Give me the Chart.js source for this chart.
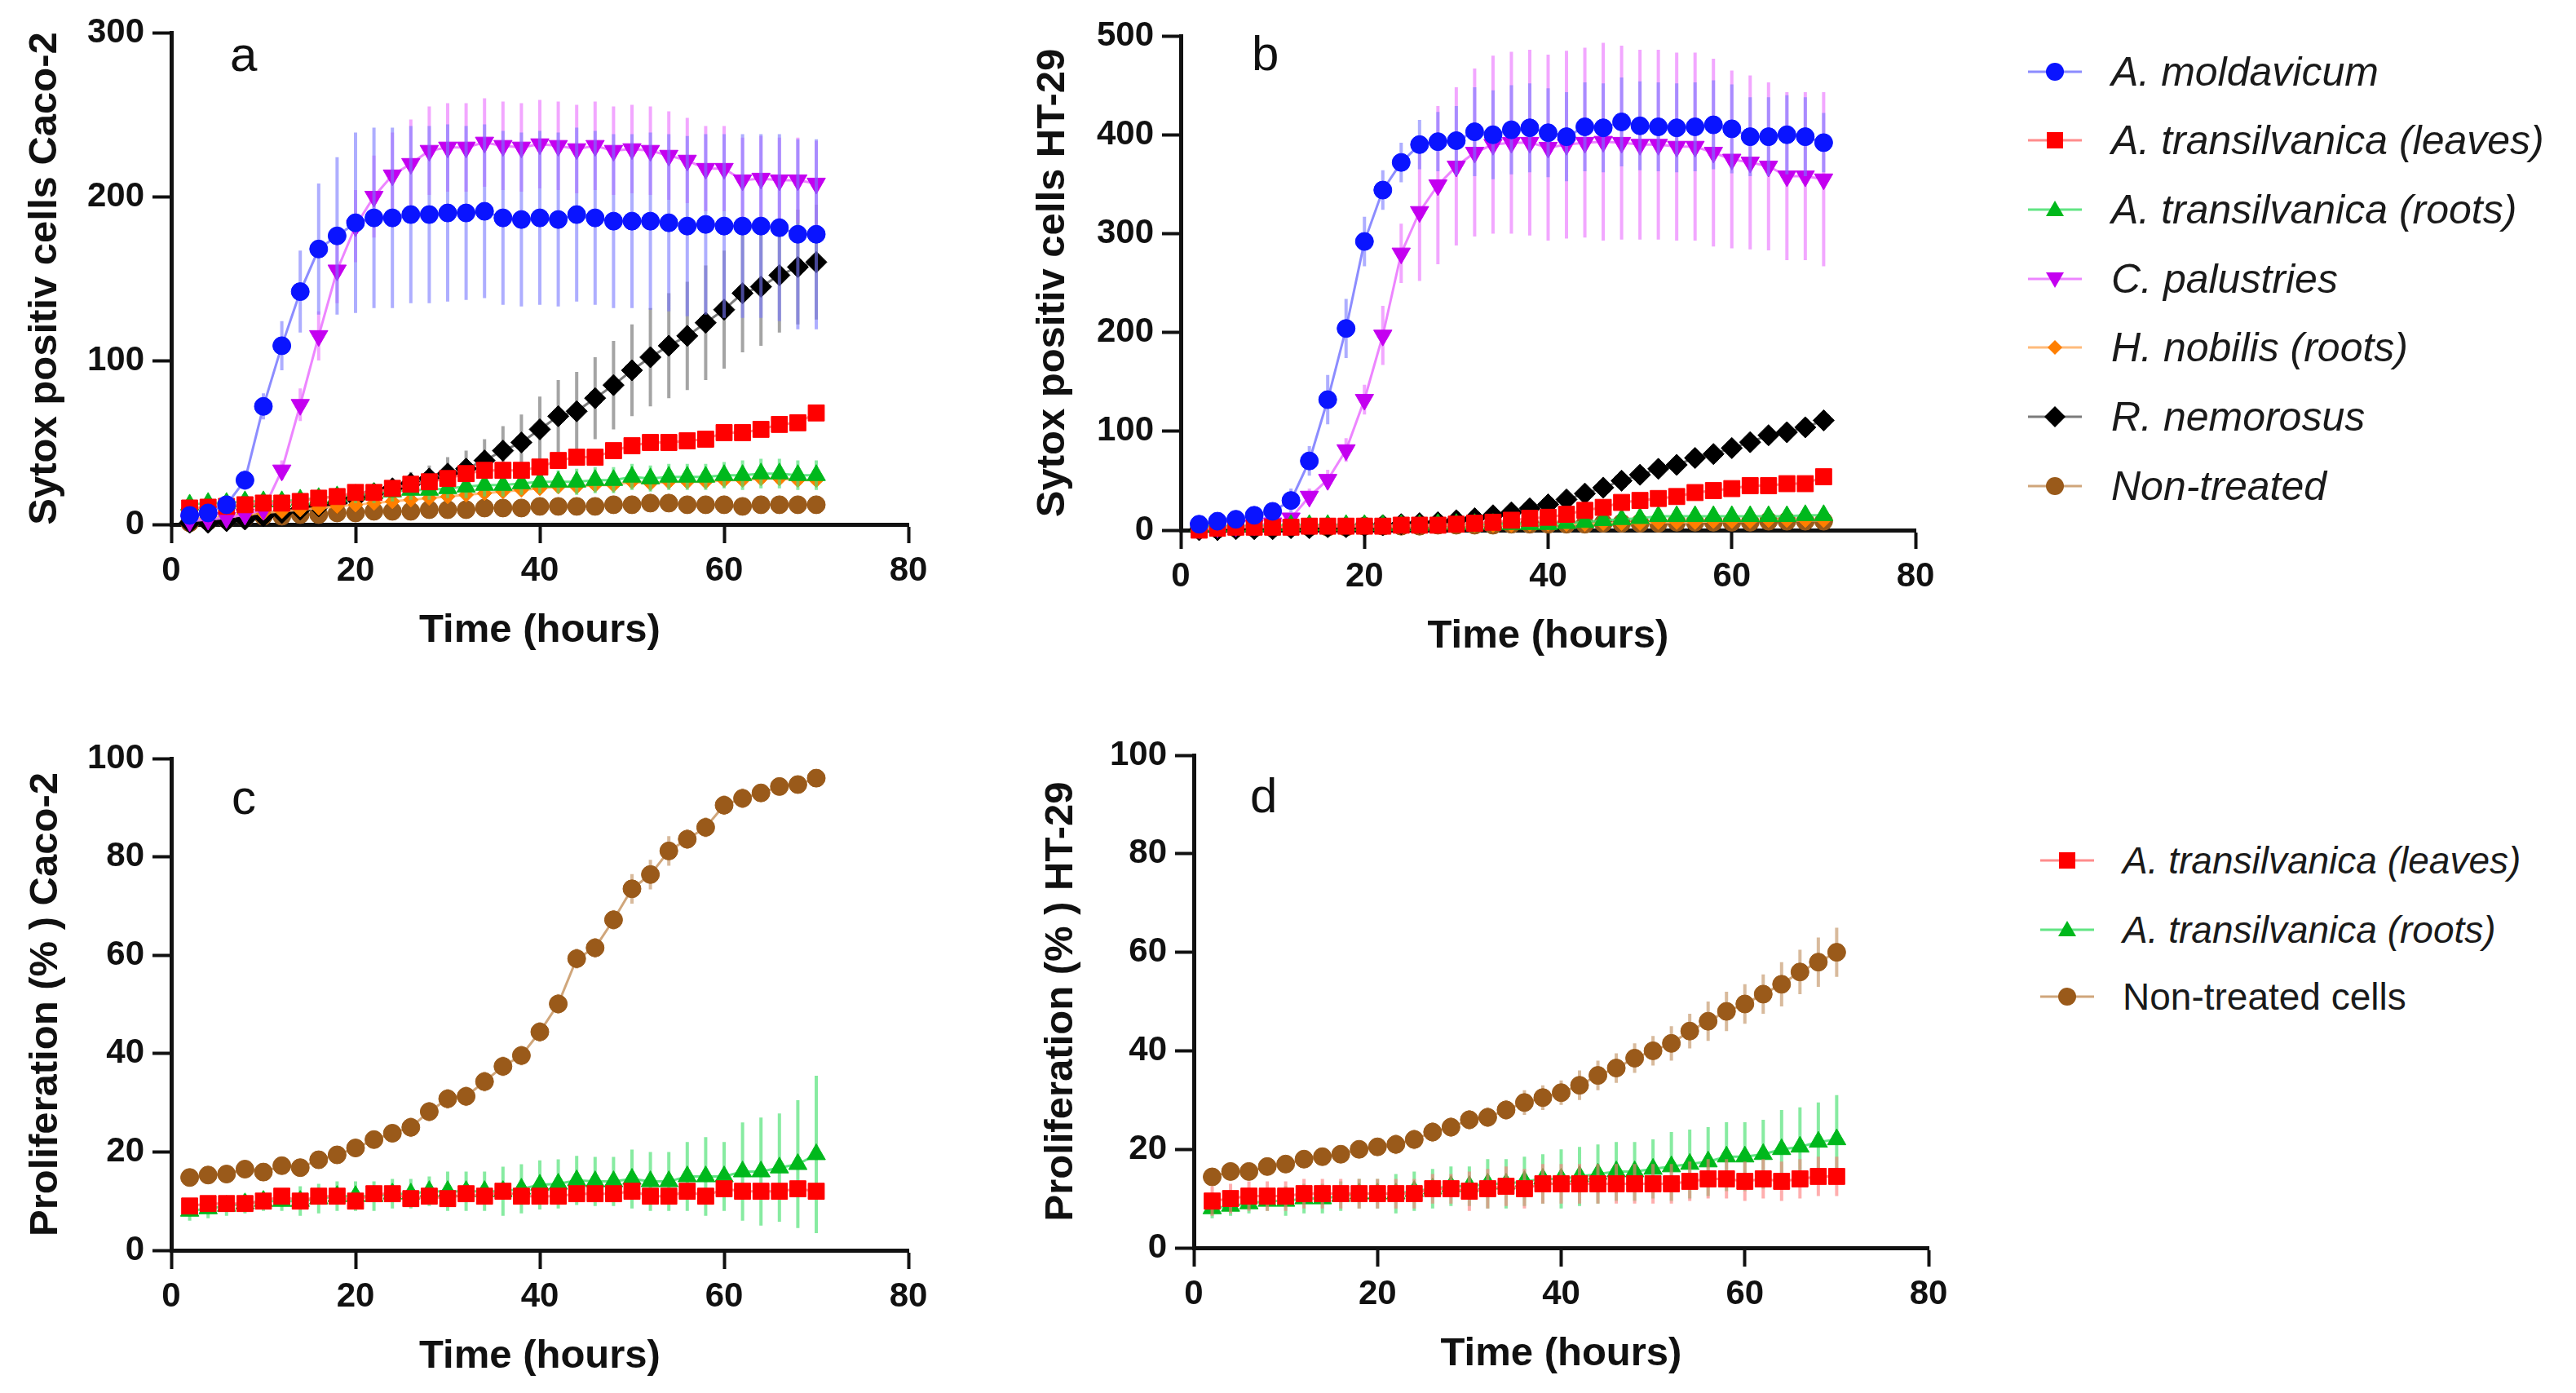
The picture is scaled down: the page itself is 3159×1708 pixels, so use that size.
<!DOCTYPE html>
<html>
<head>
<meta charset="utf-8">
<script src="https://cdn.jsdelivr.net/npm/chart.js@4.4.1/dist/chart.umd.min.js"></script>
<style>
html,body{margin:0;padding:0;background:#fff;}
#page{position:relative;width:3159px;height:1708px;overflow:hidden;background:#fff;font-family:'Liberation Sans',Arial,sans-serif;}
canvas{position:absolute;}
.panel{position:absolute;font-size:60px;line-height:60px;color:#111;}
.leg{position:absolute;height:60px;}
.leg svg{position:absolute;left:0;top:15px;}
.leg span{position:absolute;top:0;white-space:nowrap;line-height:60px;color:#1a1a1a;}
</style>
</head>
<body>
<div id="page">
  <canvas id="ca" width="1150" height="803" style="left:0px;top:0px;width:1150px;height:803px"></canvas>
  <canvas id="cb" width="1150" height="810" style="left:1240px;top:0px;width:1150px;height:810px"></canvas>
  <canvas id="cc" width="1150" height="813" style="left:0px;top:880px;width:1150px;height:813px"></canvas>
  <canvas id="cd" width="1160" height="810" style="left:1240px;top:880px;width:1160px;height:810px"></canvas>
  <div class="panel" style="left:282px;top:37px">a</div>
  <div class="panel" style="left:1535px;top:36px">b</div>
  <div class="panel" style="left:284px;top:948px">c</div>
  <div class="panel" style="left:1533px;top:946px">d</div>
  <div id="legendTop"></div>
  <div id="legendBottom"></div>
</div>
<script>
// ---------- data ----------
const hours = [2,4,6,8,10,12,14,16,18,20,22,24,26,28,30,32,34,36,38,40,42,44,46,48,50,52,54,56,58,60,62,64,66,68,70];
const xTicks = [0,20,40,60,80];

// panel a : Sytox positive cells, Caco-2
const aMold      = [5.5,7,12,27,72,109,142,168,176,184,187,187,189,189,190,190,191,187,186,187,186,189,187,185,185,185,184,182,183,182,182,182,181,177,177];
const aMoldErr   = [2,3,4,6,8,15,25,40,48,55,55,55,54,54,54,53,53,53,53,53,53,53,53,53,53,54,54,55,55,56,56,56,57,58,58];
const aLeaves    = [10,10.5,11,12,13,13,14,16,17,19.5,19.5,22,24.5,26,28,31,33,33,33,35,39,41,41,45,48,50,50,51,52,56,56,58,61,62,68];
const aLeavesErr = [3,3,3,3,3,3,3,3,3,3,3,3,3,3,3,3,3,3,3,3,3,3,3,3,3,3,3,3,3,3,3,3,3,3,3];
const aRoots     = [12,13,13,14,14,14,15,16,17,18,19,20,21,21,22,23,24,24,25,26,26,26,27,27,29,28,29,29,29,30,30,31,31,30,30];
const aRootsErr  = [4,5,5,5,5,5,5,5,5,5,6,6,6,6,6,7,7,7,7,7,7,8,8,8,8,8,8,8,8,8,9,9,9,9,9];
const aPal       = [2,3,4,6,9,33,73,115,155,182,200,213,220,228,230,230,233,231,230,232,231,229,231,228,229,228,225,222,217,217,210,211,210,210,208];
const aPalErr    = [1,1,2,2,3,6,10,15,20,22,25,26,27,27,27,27,27,27,27,27,27,27,27,27,27,27,27,26,26,26,26,26,26,26,26];
const aNobilis   = [3,4,5,6,7,8,9,10,11,12,13,14,15,16,17,18,19,20,21,22,23,23,24,24,26,25,26,26,26,27,27,28,28,27,27];
const aNobilisErr= [3,3,3,3,3,3,3,3,3,3,3,3,3,3,3,3,3,3,3,3,3,3,3,3,3,3,3,3,3,3,3,3,3,3,3];
const aNemo      = [1,1,2,3,5,7,9,11,13,16,19,22,25,28,31,34,39,45,50,58,66,69,77,85,94,102,109,115,123,131,141,145,152,157,160];
const aNemoErr   = [1,1,1,2,2,2,3,3,4,5,5,6,7,8,10,11,13,15,17,20,22,24,25,27,28,30,32,33,35,36,36,36,35,35,35];
const aNon       = [1,2,3,4,5,5,6,6,7,7,8,8,8,9,9,9,10,10,10,11,11,11,11,12,12,13,13,12,12,12,11,12,12,12,12];
const aNonErr    = [2,2,2,2,2,2,2,2,2,2,2,2,2,2,2,2,2,2,2,2,2,2,2,2,2,2,2,2,2,2,2,2,2,2,2];

// panel b : Sytox positive cells, HT-29
const bMold      = [6,9,11,15,19,30,70,132,204,292,344,372,390,393,394,403,400,405,407,402,398,408,407,413,409,408,407,408,410,406,398,398,400,398,392];
const bMoldErr   = [4,5,5,6,8,12,15,25,30,25,20,20,25,30,35,45,45,45,45,45,45,45,45,45,45,45,45,45,45,45,40,40,40,40,30];
const bLeaves    = [0,2,3,3,3,3,4,4,4,4,4,5,5,5,6,7,8,10,12,13,16,20,23,28,30,32,34,38,40,42,45,45,47,47,54];
const bLeavesErr = [2,2,2,2,2,2,2,2,2,2,2,2,2,2,2,2,2,3,3,3,3,4,4,4,4,4,5,5,5,5,5,5,5,5,6];
const bRoots     = [4,4,4,4,5,5,5,5,5,5,5,5,5,6,6,6,6,6,6,6,7,8,10,11,12,14,14,14,14,14,14,14,14,15,15];
const bRootsErr  = [3,3,3,3,3,3,3,3,3,3,3,3,3,3,3,3,3,3,3,3,3,3,3,3,3,3,3,3,3,3,3,3,3,3,3];
const bPal       = [2,3,4,5,7,12,34,51,81,132,197,280,322,349,368,382,390,392,392,387,390,392,393,392,390,390,388,388,382,375,372,368,358,358,355];
const bPalErr    = [2,2,2,3,3,5,8,10,12,15,30,30,70,80,80,85,90,92,94,94,95,96,100,98,96,96,95,95,95,90,88,85,85,85,88];
const bNobilis   = [2,2,3,3,3,3,4,4,4,4,4,4,5,5,5,5,5,5,6,6,6,6,7,7,7,8,8,8,9,9,9,10,10,10,10];
const bNobilisErr= [2,2,2,2,2,2,2,2,2,2,2,2,2,2,2,2,2,2,2,2,2,2,2,2,2,2,2,2,2,2,2,2,2,2,2];
const bNemo      = [0,0,1,1,1,2,2,3,3,4,5,6,7,8,10,12,15,18,22,26,31,37,43,50,56,62,66,73,77,83,89,96,99,104,111];
const bNemoErr   = [2,2,2,2,2,2,2,2,2,2,2,2,2,2,2,3,3,3,3,3,4,4,4,4,4,4,5,5,5,5,5,5,5,5,6];
const bNon       = [1,1,2,2,2,3,3,3,3,4,4,4,4,5,5,5,5,6,6,6,6,6,7,7,7,7,8,8,8,8,8,9,9,9,9];
const bNonErr    = [2,2,2,2,2,2,2,2,2,2,2,2,2,2,2,2,2,2,2,2,2,2,2,2,2,2,2,2,2,2,2,2,2,2,2];

// panel c : Proliferation (%), Caco-2
const cLeaves    = [9,9.5,9.5,9.5,10,11,10,11,11,10,11.5,11.5,10.5,11,10.5,11.5,11,12,11,11,11,11.5,11.5,11.5,12,11,11,12,11,12.5,12,12,12,12.5,12];
const cLeavesErr = [1.5,1.5,1.5,1.5,1.5,1.5,1.5,1.5,1.5,1.5,1.5,1.5,1.5,1.5,1.5,1.5,1.5,1.5,1.5,1.5,1.5,1.5,1.5,1.5,1.5,1.5,1.5,1.5,1.5,1.5,1.5,1.5,1.5,1.5,1.5];
const cRoots     = [8,8.5,9,9.5,10,10,10,10.5,11,11,11,11.5,11.5,12,12,12,12,12,12.5,13.3,13.5,14.2,14,14,14.5,14,14,15,15,15,16,16,16.8,17.5,19.5];
const cRootsErr  = [2,2,2,2,2,2,3,3,3,3,3,3,3,3,4,4,4,5,5,5,5,5,5,5,6,6,6,7,8,7,10,11,11,13,16];
const cNon       = [14.8,15.3,15.5,16.5,15.9,17.2,16.8,18.4,19.4,20.8,22.5,23.8,25,28.2,30.8,31.3,34.3,37.4,39.6,44.4,50.1,59.3,61.5,67.2,73.5,76.4,81.2,83.6,86,90.5,91.9,93,94.3,94.7,96];
const cNonErr    = [1,1,1,1,1,1,1,1,1,1,1.5,1.5,2,2,2,2,2,2,2,2,2,2,2,2,3,3,3,2,2,2,2,1,1,1,1];

// panel d : Proliferation (%), HT-29
const dLeaves    = [9.5,10,10.5,10.5,10.5,11,11,11,11,11,11,11,12,12,11.5,12,12.5,12,13,13,13,13,13,13,13,13,13.5,14,14,13.5,14,13.5,14,14.5,14.5];
const dLeavesErr = [3,3,3,3,3,3,3,3,3,3,3,3,3,3,4,4,4,4,4,4,4,4,4,4,4,4,4,4,4,4,4,4,4,4,4];
const dRoots     = [8,8.5,9,9.5,9.5,10,10,10.5,11,11,11,11.5,12,12.5,12.5,13,13,13.5,14,14,14.5,15,15.5,15.5,16,16.5,17,17.5,18.5,18.5,19,20,20.5,21.5,22];
const dRootsErr  = [2,2,2,2,3,3,3,3,3,3,4,4,4,4,4,5,5,5,5,6,6,6,6,6,6,7,7,7,7,7,7,8,8,8,9];
const dNon       = [14.4,15.5,15.5,16.5,17,18,18.5,19,20,20.5,21,22,23.5,24.5,26,26.5,28,29.5,30.5,31.5,33,35,36.5,38.5,40,41.5,44,46,48,49.5,51.5,53.5,56,58,60];
const dNonErr    = [1.5,1.5,1.5,1.5,1.5,1.5,1.5,1.5,1.5,1.5,2,2,2,2,2,2,2,2.5,2.5,2.5,3,3,3,3,3,3.5,3.5,4,4,4,4,4.5,4.5,5,5];

// labels
const topLegendLabels = ['A. moldavicum','A. transilvanica (leaves)','A. transilvanica (roots)','C. palustries','H. nobilis (roots)','R. nemorosus','Non-treated'];
const bottomLegendLabels = ['A. transilvanica (leaves)','A. transilvanica (roots)','Non-treated cells'];

// ---------- styles ----------
const ST = {
  mold:   {fill:'#0a14ff', line:'rgba(120,120,255,0.85)', err:'rgba(120,120,255,0.6)', shape:'circle',   r:11, rot:0},
  leaves: {fill:'#ff0000', line:'rgba(255,120,120,0.85)', err:'rgba(255,120,120,0.6)', shape:'rect',     r:14, rot:0},
  roots:  {fill:'#00b81c', line:'rgba(70,225,110,0.85)',  err:'rgba(70,225,110,0.65)', shape:'triangle', r:13, rot:0},
  pal:    {fill:'#c400f0', line:'rgba(235,120,255,0.9)',  err:'rgba(235,120,255,0.65)', shape:'triangle', r:13, rot:180},
  nob:    {fill:'#ff7f00', line:'rgba(255,180,110,0.9)',  err:'rgba(255,180,110,0.6)', shape:'rectRot',  r:9,  rot:0},
  nemo:   {fill:'#000000', line:'rgba(90,90,90,0.8)',     err:'rgba(90,90,90,0.55)',    shape:'rectRot',  r:13, rot:0},
  non:    {fill:'#9a5a1a', line:'rgba(200,150,100,0.85)', err:'rgba(190,140,90,0.6)',   shape:'circle',   r:11, rot:0}
};

const errorBarPlugin = {
  id: 'errorBars',
  beforeDatasetDraw(chart, args) {
    const ds = chart.data.datasets[args.index];
    if (!ds.errors) return;
    const xs = chart.scales.x, ys = chart.scales.y, ctx = chart.ctx;
    ctx.save();
    ctx.strokeStyle = ds.errColor;
    ctx.lineWidth = 4;
    ctx.beginPath();
    ds.data.forEach((p, i) => {
      const e = ds.errors[i];
      if (!e) return;
      const px = xs.getPixelForValue(p.x);
      ctx.moveTo(px, ys.getPixelForValue(Math.max(p.y - e, ys.min)));
      ctx.lineTo(px, ys.getPixelForValue(p.y + e));
    });
    ctx.stroke();
    ctx.restore();
  }
};

Chart.defaults.font.family = "'Liberation Sans', Arial, sans-serif";
Chart.defaults.color = '#111';

function buildChart(id, cfg) {
  const datasets = cfg.series.map(s => ({
    label: s.name,
    data: hours.map((h, i) => ({x: h, y: s.values[i]})),
    errors: s.errors,
    errColor: s.style.err,
    borderColor: s.style.line,
    borderWidth: 3,
    pointStyle: s.style.shape,
    rotation: s.style.rot,
    pointRadius: s.style.r,
    pointHoverRadius: s.style.r,
    pointBackgroundColor: s.style.fill,
    pointBorderColor: s.style.fill,
    pointBorderWidth: 1,
    tension: 0,
    fill: false,
    clip: false
  }));
  return new Chart(document.getElementById(id), {
    type: 'line',
    data: {datasets},
    plugins: [errorBarPlugin],
    options: {
      responsive: false,
      animation: false,
      devicePixelRatio: 1,
      layout: {padding: {left: 0, top: cfg.padTop, right: cfg.padRight, bottom: 0}},
      plugins: {legend: {display: false}, tooltip: {enabled: false}},
      scales: {
        x: {
          type: 'linear', min: 0, max: 80,
          afterBuildTicks: sc => { sc.ticks = xTicks.map(v => ({value: v})); },
          ticks: {color: '#111', padding: 9, font: {size: 42, weight: 'bold'}},
          grid: {display: true, drawOnChartArea: false, drawTicks: true, tickLength: 23, tickWidth: 4, tickColor: '#111'},
          border: {display: true, color: '#111', width: 5},
          title: {display: true, text: 'Time (hours)', color: '#111', font: {size: 49, weight: 'bold'}, padding: {top: 0, bottom: 0}},
          afterFit: sc => { sc.height = 160; }
        },
        y: {
          type: 'linear', min: 0, max: cfg.yMax,
          afterBuildTicks: sc => { sc.ticks = cfg.yTicks.map(v => ({value: v})); },
          ticks: {color: '#111', padding: 10, font: {size: 42, weight: 'bold'}},
          grid: {display: true, drawOnChartArea: false, drawTicks: true, tickLength: 23, tickWidth: 4, tickColor: '#111'},
          border: {display: true, color: '#111', width: 5},
          title: {display: true, text: cfg.yTitle, color: '#111', font: {size: 49, weight: 'bold'}, padding: {top: cfg.yTitlePad, bottom: 0}},
          afterFit: sc => { sc.width = cfg.yWidth; }
        }
      }
    }
  });
}

const sytoxTicksA = [0,100,200,300];
const sytoxTicksB = [0,100,200,300,400,500];
const prolifTicks = [0,20,40,60,80,100];

buildChart('ca', {
  padTop: 40, padRight: 36, yWidth: 210, yTitlePad: 26, yMax: 300, yTicks: sytoxTicksA,
  yTitle: 'Sytox positiv cells Caco-2',
  series: [
    {name: topLegendLabels[0], values: aMold, errors: aMoldErr, style: ST.mold},
    {name: topLegendLabels[1], values: aLeaves, errors: aLeavesErr, style: ST.leaves},
    {name: topLegendLabels[2], values: aRoots, errors: aRootsErr, style: ST.roots},
    {name: topLegendLabels[3], values: aPal, errors: aPalErr, style: ST.pal},
    {name: topLegendLabels[4], values: aNobilis, errors: aNobilisErr, style: ST.nob},
    {name: topLegendLabels[5], values: aNemo, errors: aNemoErr, style: ST.nemo},
    {name: topLegendLabels[6], values: aNon, errors: aNonErr, style: ST.non}
  ]
});
buildChart('cb', {
  padTop: 44, padRight: 41, yWidth: 208, yTitlePad: 22, yMax: 500, yTicks: sytoxTicksB,
  yTitle: 'Sytox positiv cells HT-29',
  series: [
    {name: topLegendLabels[0], values: bMold, errors: bMoldErr, style: ST.mold},
    {name: topLegendLabels[1], values: bLeaves, errors: bLeavesErr, style: ST.leaves},
    {name: topLegendLabels[2], values: bRoots, errors: bRootsErr, style: ST.roots},
    {name: topLegendLabels[3], values: bPal, errors: bPalErr, style: ST.pal},
    {name: topLegendLabels[4], values: bNobilis, errors: bNobilisErr, style: ST.nob},
    {name: topLegendLabels[5], values: bNemo, errors: bNemoErr, style: ST.nemo},
    {name: topLegendLabels[6], values: bNon, errors: bNonErr, style: ST.non}
  ]
});
buildChart('cc', {
  padTop: 50, padRight: 36, yWidth: 210, yTitlePad: 27, yMax: 100, yTicks: prolifTicks,
  yTitle: 'Proliferation (% ) Caco-2',
  series: [
    {name: bottomLegendLabels[0], values: cLeaves, errors: cLeavesErr, style: ST.leaves},
    {name: bottomLegendLabels[1], values: cRoots, errors: cRootsErr, style: ST.roots},
    {name: bottomLegendLabels[2], values: cNon, errors: cNonErr, style: ST.non}
  ]
});
buildChart('cd', {
  padTop: 46, padRight: 35, yWidth: 224, yTitlePad: 32, yMax: 100, yTicks: prolifTicks,
  yTitle: 'Proliferation (% ) HT-29',
  series: [
    {name: bottomLegendLabels[0], values: dLeaves, errors: dLeavesErr, style: ST.leaves},
    {name: bottomLegendLabels[1], values: dRoots, errors: dRootsErr, style: ST.roots},
    {name: bottomLegendLabels[2], values: dNon, errors: dNonErr, style: ST.non}
  ]
});

// ---------- legends (HTML) ----------
function markerSvg(st) {
  const c = 33, m = 15, f = st.fill;
  let shape = '';
  if (st.shape === 'circle') shape = `<circle cx="${c}" cy="${m}" r="11" fill="${f}"/>`;
  else if (st.shape === 'rect') shape = `<rect x="${c-10}" y="${m-10}" width="20" height="20" fill="${f}"/>`;
  else if (st.shape === 'triangle' && st.rot === 180) shape = `<polygon points="${c-11},${m-8} ${c+11},${m-8} ${c},${m+11}" fill="${f}"/>`;
  else if (st.shape === 'triangle') shape = `<polygon points="${c-11},${m+8} ${c+11},${m+8} ${c},${m-11}" fill="${f}"/>`;
  else if (st.shape === 'rectRot') { const r = st.r; shape = `<polygon points="${c},${m-r} ${c+r},${m} ${c},${m+r} ${c-r},${m}" fill="${f}"/>`; }
  return `<svg width="66" height="30" viewBox="0 0 66 30"><line x1="0" y1="${m}" x2="66" y2="${m}" stroke="${st.line}" stroke-width="3"/>${shape}</svg>`;
}
function buildLegend(containerId, labels, styles, ys, symLeft, textLeft, italic, fontSize) {
  const cont = document.getElementById(containerId);
  labels.forEach((lab, i) => {
    const d = document.createElement('div');
    d.className = 'leg';
    d.style.left = symLeft + 'px';
    d.style.top = (ys[i] - 30) + 'px';
    d.innerHTML = markerSvg(styles[i]);
    const s = document.createElement('span');
    s.textContent = lab;
    s.style.left = (textLeft - symLeft) + 'px';
    s.style.fontSize = fontSize + 'px';
    s.style.fontStyle = italic[i] ? 'italic' : 'normal';
    d.appendChild(s);
    cont.appendChild(d);
  });
}
buildLegend('legendTop', topLegendLabels,
  [ST.mold, ST.leaves, ST.roots, ST.pal, ST.nob, ST.nemo, ST.non],
  [88,172,257,342,426,511,596], 2487, 2589, [true,true,true,true,true,true,true], 50);
buildLegend('legendBottom', bottomLegendLabels,
  [ST.leaves, ST.roots, ST.non],
  [1055,1140,1222], 2502, 2603, [true,true,false], 46);
</script>
</body>
</html>
